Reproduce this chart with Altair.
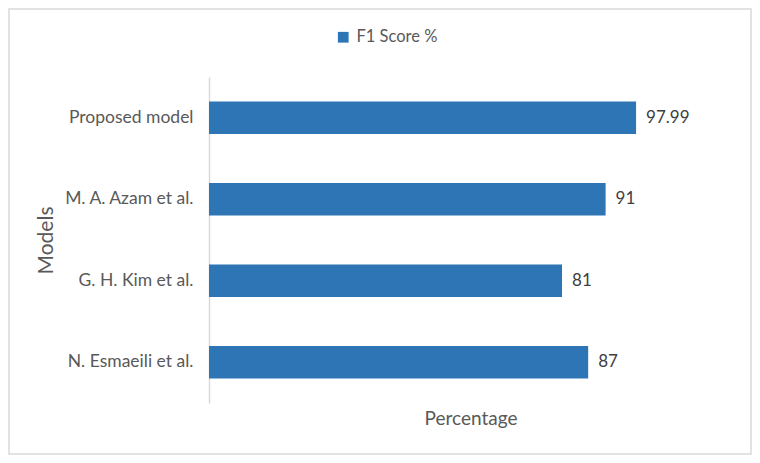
import altair as alt
import pandas as pd

models = ["Proposed model", "M. A. Azam et al.", "G. H. Kim et al.", "N. Esmaeili et al."]
f1_scores = [97.99, 91, 81, 87]
labels = ["97.99", "91", "81", "87"]
series = ["F1 Score %"] * 4

df = pd.DataFrame({"Model": models, "F1": f1_scores, "Label": labels, "Series": series})

FONT = "Lato"
GRAY = "#595959"

base = alt.Chart(df)

bars = base.mark_bar(color="#2E75B6").encode(
    y=alt.Y("Model:N", sort=models,
            scale=alt.Scale(paddingInner=0.6, paddingOuter=0.3),
            axis=alt.Axis(title="Models", titleFontSize=21, titleColor=GRAY,
                          titleFont=FONT, titleFontWeight="normal", titlePadding=7,
                          labelFontSize=17.5, labelColor=GRAY, labelFont=FONT,
                          labelPadding=16, ticks=False, domainColor="#d9d9d9",
                          domainWidth=1.5)),
    x=alt.X("F1:Q", scale=alt.Scale(domain=[0, 120], nice=False),
            axis=alt.Axis(title="Percentage", titleFontSize=19, titleColor=GRAY,
                          titleFont=FONT, titleFontWeight="normal", titlePadding=6,
                          labels=False, ticks=False, domain=False, grid=False)),
    color=alt.Color("Series:N", scale=alt.Scale(range=["#2E75B6"]),
                    legend=alt.Legend(title=None, orient="none", legendX=126, legendY=-48,
                                      symbolType="square", symbolSize=115,
                                      symbolStrokeWidth=0, labelFontSize=16.5,
                                      labelColor=GRAY, labelFont=FONT, labelOffset=5)),
)

text = base.mark_text(align="left", dx=10, fontSize=17, color="#404040", font=FONT).encode(
    y=alt.Y("Model:N", sort=models),
    x="F1:Q",
    text="Label:N",
)

border = alt.Chart(pd.DataFrame({"a": [0]})).mark_rect(
    fill=None, stroke="#d9d9d9", strokeWidth=1.5
).encode(
    x=alt.value(-200), x2=alt.value(542), y=alt.value(-68), y2=alt.value(377)
)

chart = alt.layer(border, bars, text).properties(
    width=523, height=326,
    background="white",
    autosize=alt.AutoSizeParams(type="none"),
    padding={"left": 201, "top": 69, "right": 20, "bottom": 52},
).configure_view(strokeWidth=0, stroke=None)

chart.save("out.html", embed_options={"renderer": "svg", "actions": False})
